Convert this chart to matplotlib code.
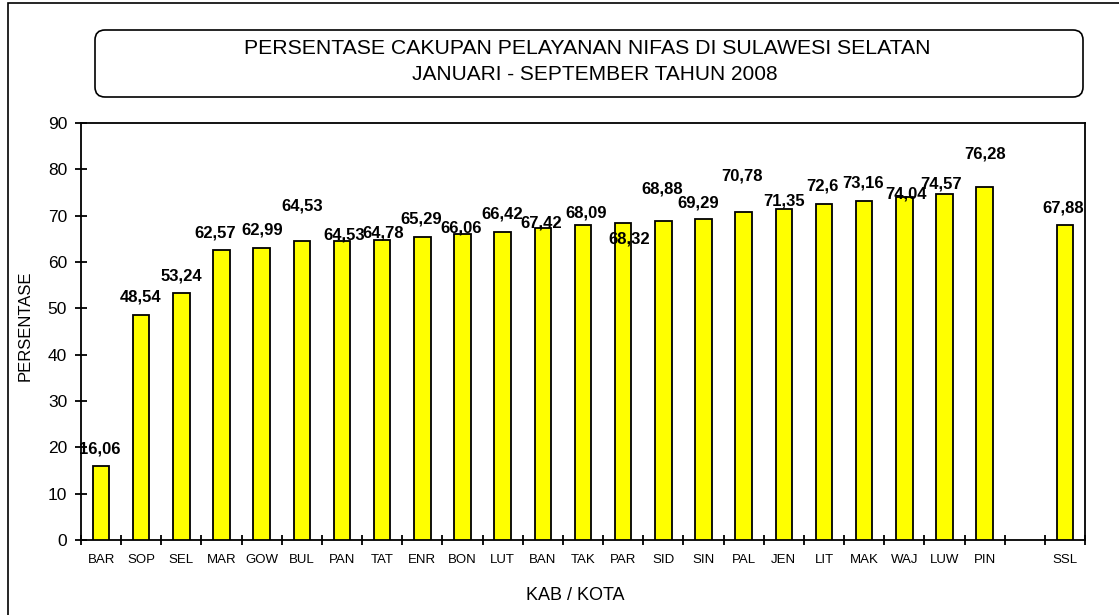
import matplotlib.pyplot as plt
from matplotlib.patches import FancyBboxPatch, Rectangle
import numpy as np

# data
kab = ["BAR", "SOP", "SEL", "MAR", "GOW", "BUL", "PAN", "TAT", "ENR", "BON",
       "LUT", "BAN", "TAK", "PAR", "SID", "SIN", "PAL", "JEN", "LIT", "MAK",
       "WAJ", "LUW", "PIN"]
persen = [16.06, 48.54, 53.24, 62.57, 62.99, 64.53, 64.53, 64.78, 65.29, 66.06,
          66.42, 67.42, 68.09, 68.32, 68.88, 69.29, 70.78, 71.35, 72.6, 73.16,
          74.04, 74.57, 76.28]
total_label = "SSL"
total_value = 67.88

# manual label shifts (pixels), as moved around in the original sheet
label_dx = [-1, -1, 0, -6, 0, 0, 2, 1, -1, -1, 0, -2, 3, 6, -1, -5, -2, 0, -2, -1, 2, -3, 0, -2]
label_dy = [17, 18, 17, 17, 18, 35, 6, 7, 18, 6, 18, 5, 12, -16, 32, 16, 36, 8, 18, 18, 3, 10, 33, 17]

plt.rcParams['font.family'] = ['Liberation Sans', 'DejaVu Sans']

fig = plt.figure(figsize=(11.19, 6.15), dpi=100)
ax = fig.add_axes([81 / 1119, 1 - 540 / 615, (1085 - 81) / 1119, (540 - 123) / 615])

names = kab + [total_label]
values = persen + [total_value]
pos = list(range(len(kab))) + [len(kab) + 1]

ax.bar(pos, values, width=0.41, color="#ffff00", edgecolor="black", linewidth=1.3, zorder=3)

for i, (x, v) in enumerate(zip(pos, values)):
    txt = f"{v:g}".replace(".", ",")
    ax.annotate(txt, (x, v), xytext=(label_dx[i], label_dy[i]), textcoords="offset pixels",
                ha="center", va="center", fontsize=12, fontweight="bold", zorder=4)

n_slots = len(kab) + 2
ax.set_xlim(-0.5, n_slots - 0.5)
ax.set_ylim(0, 90)
ax.set_yticks(np.arange(0, 91, 10))

slot_labels = kab + [""] + [total_label]
ax.set_xticks(range(n_slots))
ax.set_xticklabels(slot_labels, fontsize=9.5)
ax.tick_params(axis="x", which="major", length=0, pad=10)
ax.set_xticks(np.arange(-0.5, n_slots, 1), minor=True)
ax.tick_params(axis="x", which="minor", direction="inout", length=7, width=1.3)
ax.tick_params(axis="y", direction="inout", length=8, width=1.3, labelsize=12.5, pad=6)

for s in ax.spines.values():
    s.set_linewidth(1.3)

fig.text(25 / 1119, 1 - 326 / 615, "PERSENTASE", rotation=90, ha="center", va="center", fontsize=12)
fig.text(575 / 1119, 1 - 595 / 615, "KAB / KOTA", ha="center", va="center", fontsize=13)

# title box
box = FancyBboxPatch((95, 615 - 97), 988, 67, boxstyle="round,pad=0,rounding_size=10",
                     transform=None, facecolor="white", edgecolor="black", linewidth=1.2)
fig.patches.append(box)
fig.text(587 / 1119, 1 - 49 / 615, "PERSENTASE CAKUPAN PELAYANAN NIFAS DI SULAWESI SELATAN",
         ha="center", va="center", fontsize=15.3)
fig.text(595 / 1119, 1 - 75 / 615, "JANUARI - SEPTEMBER TAHUN 2008",
         ha="center", va="center", fontsize=15)

# outer chart border
border = Rectangle((8, -20), 1300, 615 - 3 + 20, transform=None, fill=False,
                   edgecolor="black", linewidth=1.2)
fig.patches.append(border)

plt.savefig("out.png", dpi=100)
